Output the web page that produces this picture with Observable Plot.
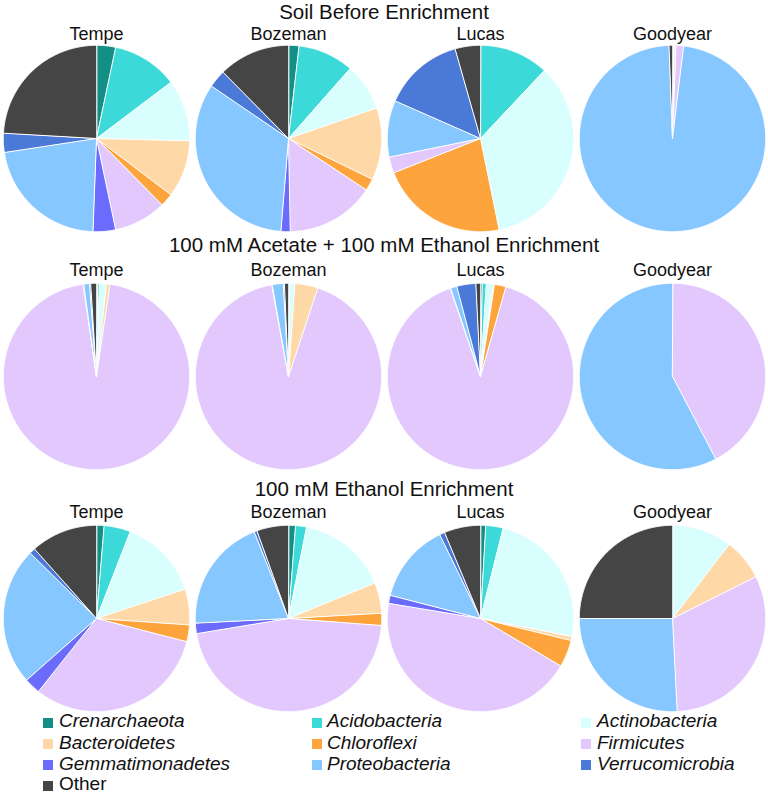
<!DOCTYPE html>
<html><head><meta charset="utf-8">
<script src="https://cdn.jsdelivr.net/npm/d3@7"></script>
<script src="https://cdn.jsdelivr.net/npm/@observablehq/plot@0.6"></script>
<style>
body{margin:0;background:#fff;font-family:"Liberation Sans",Arial,Helvetica,sans-serif;color:#111}
#chart{position:relative;width:768px;height:794px;overflow:hidden;background:#fff}
.rowtitle{position:absolute;left:0;width:768px;text-align:center;font-size:20.5px;line-height:20px;white-space:nowrap}
.plot{position:absolute;left:0}
.leg{position:absolute;font-size:19px;line-height:16px;white-space:nowrap;font-style:italic}
.sw{position:absolute;width:10px;height:10px}
</style></head><body><div id="chart"></div>
<script>
// ---- data ----
const phyla = ["Crenarchaeota","Acidobacteria","Actinobacteria","Bacteroidetes","Chloroflexi","Firmicutes","Gemmatimonadetes","Proteobacteria","Verrucomicrobia","Other"];
const phylaColors = ["#148f86","#3cd9d9","#d8fefe","#fed8a6","#fea43c","#e3c8fe","#6b6bfd","#85c7fe","#4b79d8","#454545"];
const sites = ["Tempe","Bozeman","Lucas","Goodyear"];
const treatments = ["Soil Before Enrichment","100 mM Acetate + 100 mM Ethanol Enrichment","100 mM Ethanol Enrichment"];

// relative abundance (%) per site, in the order of `phyla`
const soilBefore = {
  Tempe:    [3.3, 11.4, 10.7, 9.9, 2.3, 9.1, 3.9, 22.0, 3.3, 24.1],
  Bozeman:  [1.8, 9.7, 8.2, 12.5, 2.1, 15.4, 1.6, 33.2, 3.1, 12.4],
  Lucas:    [0, 12.0, 34.8, 0, 22.2, 2.8, 0, 9.8, 14.0, 4.4],
  Goodyear: [0, 0, 0.3, 0.3, 0, 1.3, 0, 97.5, 0, 0.6]
};
const acetateEthanol = {
  Tempe:    [0.2, 0.3, 1.2, 0.6, 0, 95.4, 0.1, 1.0, 0.2, 1.0],
  Bozeman:  [0.1, 0.1, 0.9, 4.0, 0, 92.0, 0.1, 1.9, 0.2, 0.7],
  Lucas:    [0.3, 0.7, 1.2, 0.2, 2.0, 90.3, 0.1, 1.1, 3.3, 0.8],
  Goodyear: [0, 0, 0, 0, 0, 42.3, 0, 57.7, 0, 0]
};
const ethanol = {
  Tempe:    [1.3, 4.6, 14.0, 6.2, 2.9, 31.7, 2.8, 23.9, 1.0, 11.6],
  Bozeman:  [1.2, 1.9, 15.7, 5.3, 2.1, 46.2, 1.8, 19.8, 0.5, 5.5],
  Lucas:    [0.9, 3.0, 24.2, 0.7, 4.7, 44.1, 1.4, 13.8, 0.9, 6.3],
  Goodyear: [0, 0, 10.4, 7.2, 0, 31.6, 0, 25.8, 0, 25.0]
};
const rowData = [soilBefore, acetateEthanol, ethanol];

// ---- build slice outlines (unit circle) from the values ----
const pie = d3.pie().sort(null).value(d => d.value);
function slicePoints(table) {
  const pts = [];
  for (const site of sites) {
    const rows = phyla.map((p, i) => ({phylum: p, value: table[site][i]})).filter(d => d.value > 0);
    for (const a of pie(rows)) {
      const key = site + "|" + a.data.phylum;
      const n = Math.max(2, Math.ceil((a.endAngle - a.startAngle) / (Math.PI / 360)));
      pts.push({site, phylum: a.data.phylum, key, x: 0, y: 0});
      for (let k = 0; k <= n; k++) {
        const t = a.startAngle + (a.endAngle - a.startAngle) * k / n;
        pts.push({site, phylum: a.data.phylum, key, x: Math.sin(t), y: Math.cos(t)});
      }
    }
  }
  return pts;
}

const chart = document.getElementById("chart");
const FONT = '"Liberation Sans", Arial, Helvetica, sans-serif';
const plotTops = [18, 256, 498];
const labelDy = [-2.5, -5, -5];
const titleBaselines = [18.7, 252, 496];
let colorScale = null;

treatments.forEach((title, r) => {
  const t = document.createElement("div");
  t.className = "rowtitle";
  t.textContent = title;
  // line box of 20px at 20.5px font: baseline sits ~17.0px below the box top
  t.style.top = (titleBaselines[r] - 17.0) + "px";
  chart.appendChild(t);

  const plot = Plot.plot({
    width: 768, height: 218,
    marginTop: 24, marginBottom: 2, marginLeft: 0, marginRight: 0,
    style: {fontFamily: FONT, background: "transparent", overflow: "visible", color: "#111"},
    fx: {domain: sites, padding: 0, axis: null},
    x: {domain: [-1.03, 1.03], axis: null},
    y: {domain: [-1.03, 1.03], axis: null},
    color: {domain: phyla, range: phylaColors},
    marks: [
      Plot.line(slicePoints(rowData[r]), {x: "x", y: "y", z: "key", fx: "site", fill: "phylum", stroke: "white", strokeWidth: 1, curve: "linear-closed"}),
      Plot.text(sites, {fx: d => d, text: d => d, frameAnchor: "top", lineAnchor: "bottom", dy: labelDy[r], fontSize: 18, fill: "#111"})
    ]
  });
  plot.classList.add("plot");
  plot.style.top = plotTops[r] + "px";
  chart.appendChild(plot);
  colorScale = plot.scale("color");
});

// ---- legend (colors from the plot's color scale) ----
const legSwX = [43, 312, 581], legTxX = [59, 327, 597], legBase = [728, 749.5, 770.5, 791];
phyla.forEach((p, i) => {
  const c = i % 3, rr = Math.floor(i / 3);
  const sw = document.createElement("div");
  sw.className = "sw";
  sw.style.left = legSwX[c] + "px";
  sw.style.top = (legBase[rr] - 10.5) + "px";
  sw.style.background = colorScale.apply(p);
  chart.appendChild(sw);
  const tx = document.createElement("div");
  tx.className = "leg";
  tx.textContent = p;
  tx.style.left = legTxX[c] + "px";
  tx.style.top = (legBase[rr] - 14.6) + "px";
  if (p === "Other") tx.style.fontStyle = "normal";
  chart.appendChild(tx);
});
</script></body></html>
